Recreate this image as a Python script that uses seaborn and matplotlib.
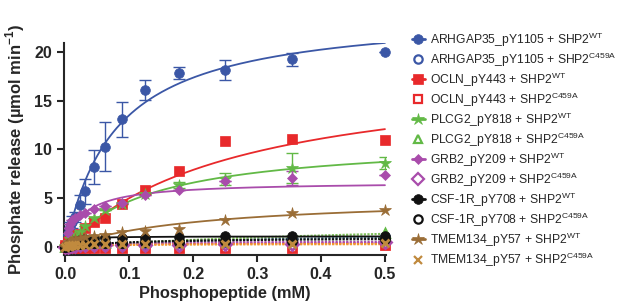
import numpy as np
import pandas as pd
import matplotlib
matplotlib.use('Agg')
import matplotlib.pyplot as plt
import seaborn as sns

sns.set_style('ticks')
plt.rcParams['font.family'] = ['Liberation Sans', 'DejaVu Sans']
plt.rcParams['mathtext.fontset'] = 'custom'
plt.rcParams['mathtext.rm'] = 'Liberation Sans'
plt.rcParams['mathtext.bf'] = 'Liberation Sans:bold'

# phosphopeptide concentration (mM)
conc = [0, 0.0039, 0.0055, 0.0078, 0.011, 0.0156, 0.0221, 0.0313, 0.0442,
        0.0625, 0.0884, 0.125, 0.177, 0.25, 0.354, 0.5]

# phosphate release, WT enzyme
arhgap_wt = [0.1, 1.3, 1.6, 2.1, 2.6, 3.1, 4.3, 5.7, 8.2, 10.3, 13.1, 16.1, 17.8, 18.1, 19.2, 20.0]
arhgap_wt_err = [0, 0.3, 0.4, 0.5, 0.6, 0.5, 1.0, 1.3, 1.7, 2.5, 1.8, 1.0, 0.6, 1.0, 0.7, 0]
ocln_wt = [0.2, 0.5, 0.6, 0.8, 1.0, 1.3, 1.4, 2.0, 2.6, 3.0, 4.4, 5.9, 7.8, 10.9, 11.1, 11.0]
plcg2_wt = [0.1, 0.3, 0.5, 0.8, 1.0, 1.3, 1.6, 2.2, 3.0, 3.8, 4.4, 5.4, 6.4, 7.0, 8.1, 8.6]
plcg2_wt_err = [0, 0, 0, 0, 0, 0, 0, 0, 0, 0, 0, 0, 0.3, 0.6, 1.5, 0.6]
grb2_wt = [0.1, 1.5, 2.0, 2.4, 2.8, 3.0, 3.3, 3.5, 3.9, 4.2, 4.5, 5.3, 5.9, 6.8, 7.1, 7.4]
grb2_wt_err = [0, 0, 0, 0, 0, 0, 0, 0, 0, 0, 0, 0, 0, 0, 0.7, 0]
csf1r_wt = [0.0, 0.2, 0.3, 0.4, 0.5, 0.6, 0.7, 0.8, 0.8, 0.9, 0.9, 0.9, 1.0, 1.1, 1.1, 1.1]
tmem_wt = [0.0, 0.3, 0.4, 0.5, 0.7, 0.8, 0.9, 1.0, 1.1, 1.3, 1.6, 1.7, 1.9, 2.8, 3.5, 3.8]

# phosphate release, C459A mutant
arhgap_mut = [0.0, 0.1, 0.1, 0.1, 0.2, 0.2, 0.2, 0.3, 0.3, 0.3, 0.3, 0.3, 0.4, 0.5, 0.6, 1.0]
ocln_mut = [0.0, -0.1, -0.1, -0.1, -0.1, -0.1, -0.1, -0.1, -0.1, -0.1, -0.1, -0.1, -0.1, -0.1, -0.1, 0.2]
plcg2_mut = [0.0, 0.1, 0.1, 0.2, 0.2, 0.2, 0.3, 0.3, 0.4, 0.4, 0.5, 0.5, 0.6, 0.7, 0.9, 1.5]
grb2_mut = [0.0, 0.0, 0.1, 0.1, 0.1, 0.1, 0.2, 0.2, 0.2, 0.2, 0.2, 0.2, 0.2, 0.3, 0.3, 0.5]
csf1r_mut = [0.0, 0.1, 0.1, 0.2, 0.2, 0.3, 0.3, 0.4, 0.4, 0.4, 0.4, 0.5, 0.5, 0.6, 0.6, 0.8]
tmem_mut = [0.0, 0.1, 0.1, 0.1, 0.2, 0.2, 0.2, 0.2, 0.3, 0.3, 0.3, 0.3, 0.3, 0.3, 0.3, 0.4]

# Michaelis-Menten fit parameters (Vmax, Km) for each series
vmax = [24.2, 1.6, 18.6, 0.45, 11.1, 3.0, 6.7, 0.6, 1.12, 1.0, 5.25, 0.35]
km = [0.079, 0.3, 0.27, 0.05, 0.136, 0.6, 0.028, 0.05, 0.008, 0.1, 0.21, 0.05]

labels = ['ARHGAP35_pY1105 + SHP2$^{\\mathrm{WT}}$', 'ARHGAP35_pY1105 + SHP2$^{\\mathrm{C459A}}$',
          'OCLN_pY443 + SHP2$^{\\mathrm{WT}}$', 'OCLN_pY443 + SHP2$^{\\mathrm{C459A}}$',
          'PLCG2_pY818 + SHP2$^{\\mathrm{WT}}$', 'PLCG2_pY818 + SHP2$^{\\mathrm{C459A}}$',
          'GRB2_pY209 + SHP2$^{\\mathrm{WT}}$', 'GRB2_pY209 + SHP2$^{\\mathrm{C459A}}$',
          'CSF-1R_pY708 + SHP2$^{\\mathrm{WT}}$', 'CSF-1R_pY708 + SHP2$^{\\mathrm{C459A}}$',
          'TMEM134_pY57 + SHP2$^{\\mathrm{WT}}$', 'TMEM134_pY57 + SHP2$^{\\mathrm{C459A}}$']
values = [arhgap_wt, arhgap_mut, ocln_wt, ocln_mut, plcg2_wt, plcg2_mut,
          grb2_wt, grb2_mut, csf1r_wt, csf1r_mut, tmem_wt, tmem_mut]
errors = {0: arhgap_wt_err, 4: plcg2_wt_err, 6: grb2_wt_err}

colors = ['#3b57a6', '#3b57a6', '#e8292b', '#e8292b', '#62b946', '#62b946',
          '#a94cab', '#a94cab', '#111111', '#111111', '#9a6d36', '#c08a3e']
line_colors = ['#3b57a6', '#3d6f86', '#e8292b', '#e8292b', '#62b946', '#7fbf5a',
               '#a94cab', '#a94cab', '#111111', '#111111', '#9a6d36', '#f09a2a']
markers = ['o', 'o', 's', 's', '*', '^', 'D', 'D', 'o', 'o', '*', 'x']
msizes = [7, 6, 7, 6, 9, 6, 5, 6, 7, 6, 9, 6]

fig = plt.figure(figsize=(6.17, 3.04), dpi=100)
ax = fig.add_axes([0.104, 0.161, 0.522, 0.698])

xfit = np.linspace(0, 0.5, 200)
handles = []
for i, (lab, vals) in enumerate(zip(labels, values)):
    wt = i % 2 == 0
    yfit = vmax[i] * xfit / (km[i] + xfit)
    sns.lineplot(x=xfit, y=yfit, ax=ax, color=line_colors[i], lw=1.3 if wt else 1.6,
                 linestyle='-' if wt else (0, (1, 0.6)), zorder=2)
    if i in errors:
        ax.errorbar(conc, vals, yerr=errors[i], fmt='none', ecolor=colors[i],
                    elinewidth=1, capsize=4, capthick=1, zorder=3)
    if wt or markers[i] == 'x':
        h, = ax.plot(conc, vals, linestyle='none', marker=markers[i], ms=msizes[i],
                     color=colors[i], mew=2 if markers[i] == 'x' else 0.5,
                     clip_on=False, zorder=4)
    else:
        h, = ax.plot(conc, vals, linestyle='none', marker=markers[i], ms=msizes[i],
                     color=colors[i], mfc='none', mew=2, clip_on=False, zorder=4)
    hl, = ax.plot([], [], color=colors[i], marker=markers[i], ms=msizes[i],
                  mfc=colors[i] if wt or markers[i] == 'x' else 'white',
                  mew=1.6 if not wt else 0.5, linestyle='-' if wt else 'none', lw=2)
    handles.append(hl)

ax.set_xlim(-0.002, 0.502)
ax.set_ylim(-0.8, 20.9)
ax.set_xticks([0, 0.1, 0.2, 0.3, 0.4, 0.5])
ax.set_xticklabels(['0.0', '0.1', '0.2', '0.3', '0.4', '0.5'])
ax.set_yticks([0, 5, 10, 15, 20])
sns.despine(ax=ax)
ax.spines['left'].set_linewidth(1.5)
ax.spines['bottom'].set_linewidth(1.5)
ax.tick_params(width=1.5, length=5, labelsize=11.5)
for t in ax.get_xticklabels() + ax.get_yticklabels():
    t.set_fontweight('bold')
ax.set_xlabel('Phosphopeptide (mM)', fontsize=11.8, fontweight='bold', labelpad=3)
ax.set_ylabel('Phosphate release (µmol min$^{\\mathbf{-1}}$)', fontsize=12,
              fontweight='bold', labelpad=5)

fig.legend(handles, labels, loc='upper left', bbox_to_anchor=(0.667, 0.9),
           frameon=False, fontsize=8.7, handlelength=1.1, handletextpad=0.45,
           labelspacing=0.15, borderpad=0, borderaxespad=0)

fig.savefig('out.png', dpi=100)
